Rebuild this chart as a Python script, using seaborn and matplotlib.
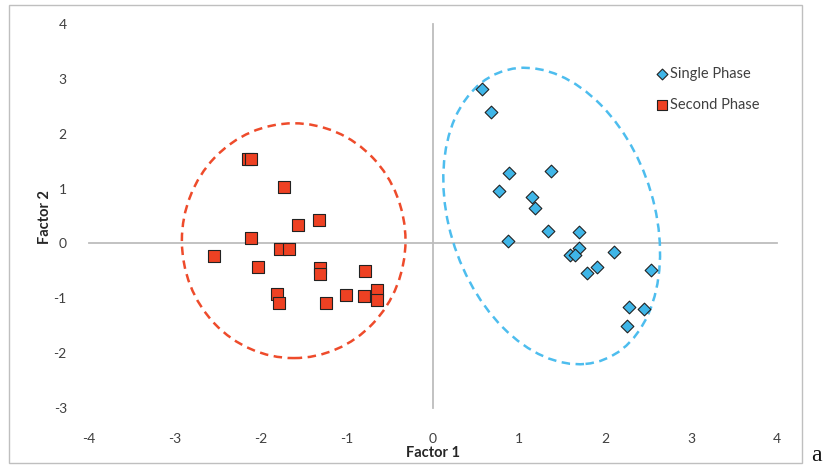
import matplotlib
matplotlib.use("Agg")
import matplotlib.pyplot as plt
from matplotlib.patches import Ellipse, Rectangle
import seaborn as sns
import pandas as pd

# Factor scores per sample
single_x = [0.57, 0.67, 0.88, 1.37, 0.77, 1.15, 1.19, 0.87, 1.34, 1.70,
            1.70, 1.59, 1.65, 2.10, 1.79, 1.91, 2.53, 2.28, 2.45, 2.25]
single_y = [2.81, 2.40, 1.29, 1.32, 0.95, 0.84, 0.64, 0.05, 0.22, 0.20,
            -0.09, -0.21, -0.22, -0.16, -0.53, -0.43, -0.49, -1.16, -1.20, -1.51]

second_x = [-2.15, -2.12, -1.73, -1.57, -1.32, -2.12, -1.78, -1.67, -2.55, -2.04,
            -1.31, -1.31, -0.79, -1.81, -1.79, -1.25, -1.01, -0.80, -0.65, -0.65]
second_y = [1.53, 1.53, 1.02, 0.33, 0.42, 0.10, -0.10, -0.10, -0.23, -0.43,
            -0.44, -0.55, -0.51, -0.92, -1.09, -1.09, -0.94, -0.95, -0.85, -1.03]

series_names = ["Single Phase", "Second Phase"]
x_ticks = [-4, -3, -2, -1, 0, 1, 2, 3, 4]
y_ticks = [-3, -2, -1, 0, 1, 2, 3, 4]

df = pd.concat([
    pd.DataFrame({"Factor 1": single_x, "Factor 2": single_y, "Phase": series_names[0]}),
    pd.DataFrame({"Factor 1": second_x, "Factor 2": second_y, "Phase": series_names[1]}),
], ignore_index=True)

sns.set_theme(style="white")
plt.rcParams["font.family"] = ["Lato", "DejaVu Sans"]

BLUE = "#3FB6E8"
RED = "#EE4123"
AXIS_GREY = "#BDBDBD"
TEXT = "#404040"

W, H = 825, 465
fig = plt.figure(figsize=(W / 100, H / 100), dpi=100)


def fig_box(left, top, right, bottom):
    return [left / W, 1 - bottom / H, (right - left) / W, (bottom - top) / H]


box = fig_box(89, 24, 777, 408)
ax = fig.add_axes(box)
ax.set_facecolor("none")

# scatter series
sns.scatterplot(data=df[df["Phase"] == series_names[0]], x="Factor 1", y="Factor 2",
                marker="D", s=42, color=BLUE, edgecolor="#222222", linewidth=0.8,
                label=series_names[0], ax=ax, zorder=4)
sns.scatterplot(data=df[df["Phase"] == series_names[1]], x="Factor 1", y="Factor 2",
                marker="s", s=85, color=RED, edgecolor="#222222", linewidth=0.8,
                label=series_names[1], ax=ax, zorder=4)

# group outlines
ax.add_patch(Ellipse((-1.62, 0.05), width=2.6, height=4.28, fill=False,
                     ec="#EE4B2B", lw=1.8, ls=(0, (3.4, 2.2)), zorder=3))
ax.add_patch(Ellipse((1.38, 0.50), width=2.42, height=5.45, angle=8.3, fill=False,
                     ec="#4DBDEE", lw=1.8, ls=(0, (3.4, 2.2)), zorder=3))

ax.set_xlim(-4, 4)
ax.set_ylim(-3, 4)
ax.set_xticks(x_ticks)
ax.set_yticks(y_ticks)
ax.set_xlabel("")
ax.set_ylabel("")
for side in ("top", "right"):
    ax.spines[side].set_visible(False)
for side in ("left", "bottom"):
    ax.spines[side].set_position(("data", 0))
    ax.spines[side].set_color(AXIS_GREY)
    ax.spines[side].set_linewidth(1.3)
ax.tick_params(direction="out", length=4, width=1, color=AXIS_GREY,
               labelbottom=False, labelleft=False)

ax.legend(loc="upper left", bbox_to_anchor=(655 / W, 1 - 67 / H),
          bbox_transform=fig.transFigure, frameon=False, borderaxespad=0,
          borderpad=0, handletextpad=0.15, handlelength=0.9, labelspacing=1.15,
          markerscale=0.85, prop={"size": 10.5}, labelcolor=TEXT)

# tick labels sit along the outer edge of the plot area
lab = fig.add_axes(box)
lab.patch.set_visible(False)
for s in lab.spines.values():
    s.set_visible(False)
lab.set_xlim(-4, 4)
lab.set_ylim(-3, 4)
lab.set_xticks(x_ticks)
lab.set_yticks(y_ticks)
lab.set_xticklabels([str(v) for v in x_ticks])
lab.set_yticklabels([str(v) for v in y_ticks])
lab.tick_params(length=0, labelsize=10, labelcolor=TEXT)
lab.tick_params(axis="x", pad=18)
lab.tick_params(axis="y", pad=16)

fig.text(433 / W, 1 - 453 / H, "Factor 1", ha="center", va="center",
         fontsize=10.5, fontweight="bold", color="#262626")
fig.text(45 / W, 1 - 217 / H, "Factor 2", ha="center", va="center", rotation=90,
         fontsize=10.5, fontweight="bold", color="#262626")

fig.add_artist(Rectangle((9 / W, 1 - 463 / H), (802 - 9) / W, (463 - 5.5) / H,
                         transform=fig.transFigure, fill=False, ec="#BFBFBF", lw=1))
fig.text(811 / W, 1 - 461 / H, "a", family=["Liberation Serif", "DejaVu Serif"],
         fontsize=17, va="baseline", ha="left", color="#111111")

fig.savefig("out.png", dpi=100)
